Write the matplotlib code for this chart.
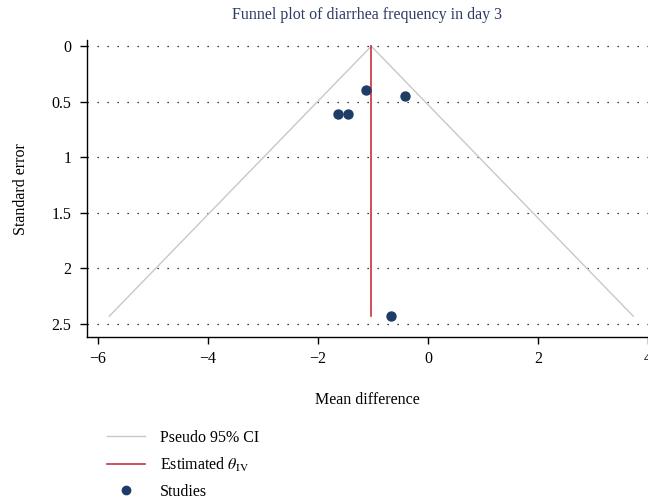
import matplotlib
matplotlib.use("Agg")
import matplotlib.pyplot as plt
from matplotlib.lines import Line2D

plt.rcParams['font.family'] = ['Liberation Serif', 'DejaVu Serif']
plt.rcParams['mathtext.fontset'] = 'stix'

# study estimates (mean difference) and their standard errors
mean_diff = [-1.12, -0.42, -1.63, -1.46, -0.67]
std_err = [0.39, 0.45, 0.61, 0.61, 2.43]
theta_iv = -1.03
se_max = 2.43

x_ticks = [-6, -4, -2, 0, 2, 4]
y_ticks = [0, 0.5, 1, 1.5, 2, 2.5]
y_tick_labels = ['0', '0.5', '1', '1.5', '2', '2.5']

fig = plt.figure(figsize=(6.48, 5.03), dpi=100)
ax = fig.add_axes([0.134, 0.330, 0.866, 0.590])

# pseudo 95% confidence limits
ax.plot([theta_iv - 1.96 * se_max, theta_iv, theta_iv + 1.96 * se_max],
        [se_max, 0, se_max], color='#c8c8c8', lw=1.0, zorder=2)
ax.plot([theta_iv, theta_iv], [0, se_max], color='#c8323c', lw=1.2, zorder=3)
ax.scatter(mean_diff, std_err, s=42, color='#1f3b68', zorder=4)

for yt in y_ticks:
    ax.axhline(yt, color='black', lw=0.9, linestyle=(0, (1, 7)), zorder=1)

ax.set_xlim(-6.2, 4.0)
ax.set_ylim(2.617, -0.054)
ax.set_xticks(x_ticks)
ax.set_xticklabels(['\u22126', '\u22124', '\u22122', '0', '2', '4'])
ax.set_yticks(y_ticks)
ax.set_yticklabels(y_tick_labels)
ax.tick_params(direction='out', length=5, width=1, labelsize=11.5, colors='black')
ax.tick_params(axis='y', pad=6)
ax.tick_params(axis='x', pad=5)

for side in ['top', 'right']:
    ax.spines[side].set_visible(False)
for side in ['left', 'bottom']:
    ax.spines[side].set_linewidth(1.0)

ax.set_xlabel('Mean difference', fontsize=11.5, labelpad=18)
ax.set_ylabel('Standard error', fontsize=11.5, labelpad=16)
ax.set_title('Funnel plot of diarrhea frequency in day 3', fontsize=11.5,
             color='#2e3a66', pad=15)

handles = [
    Line2D([], [], color='#c8c8c8', lw=1.0),
    Line2D([], [], color='#c8323c', lw=1.2),
    Line2D([], [], color='#1f3b68', marker='o', lw=0, markersize=6),
]
labels = ['Pseudo 95% CI', r'Estimated $\theta_{\mathrm{IV}}$', 'Studies']
fig.legend(handles, labels, loc='upper left', bbox_to_anchor=(0.155, 0.158),
           frameon=False, fontsize=11.5, handlelength=2.4, handletextpad=0.9,
           labelspacing=0.62, borderaxespad=0)

fig.savefig('out.png', dpi=100)
